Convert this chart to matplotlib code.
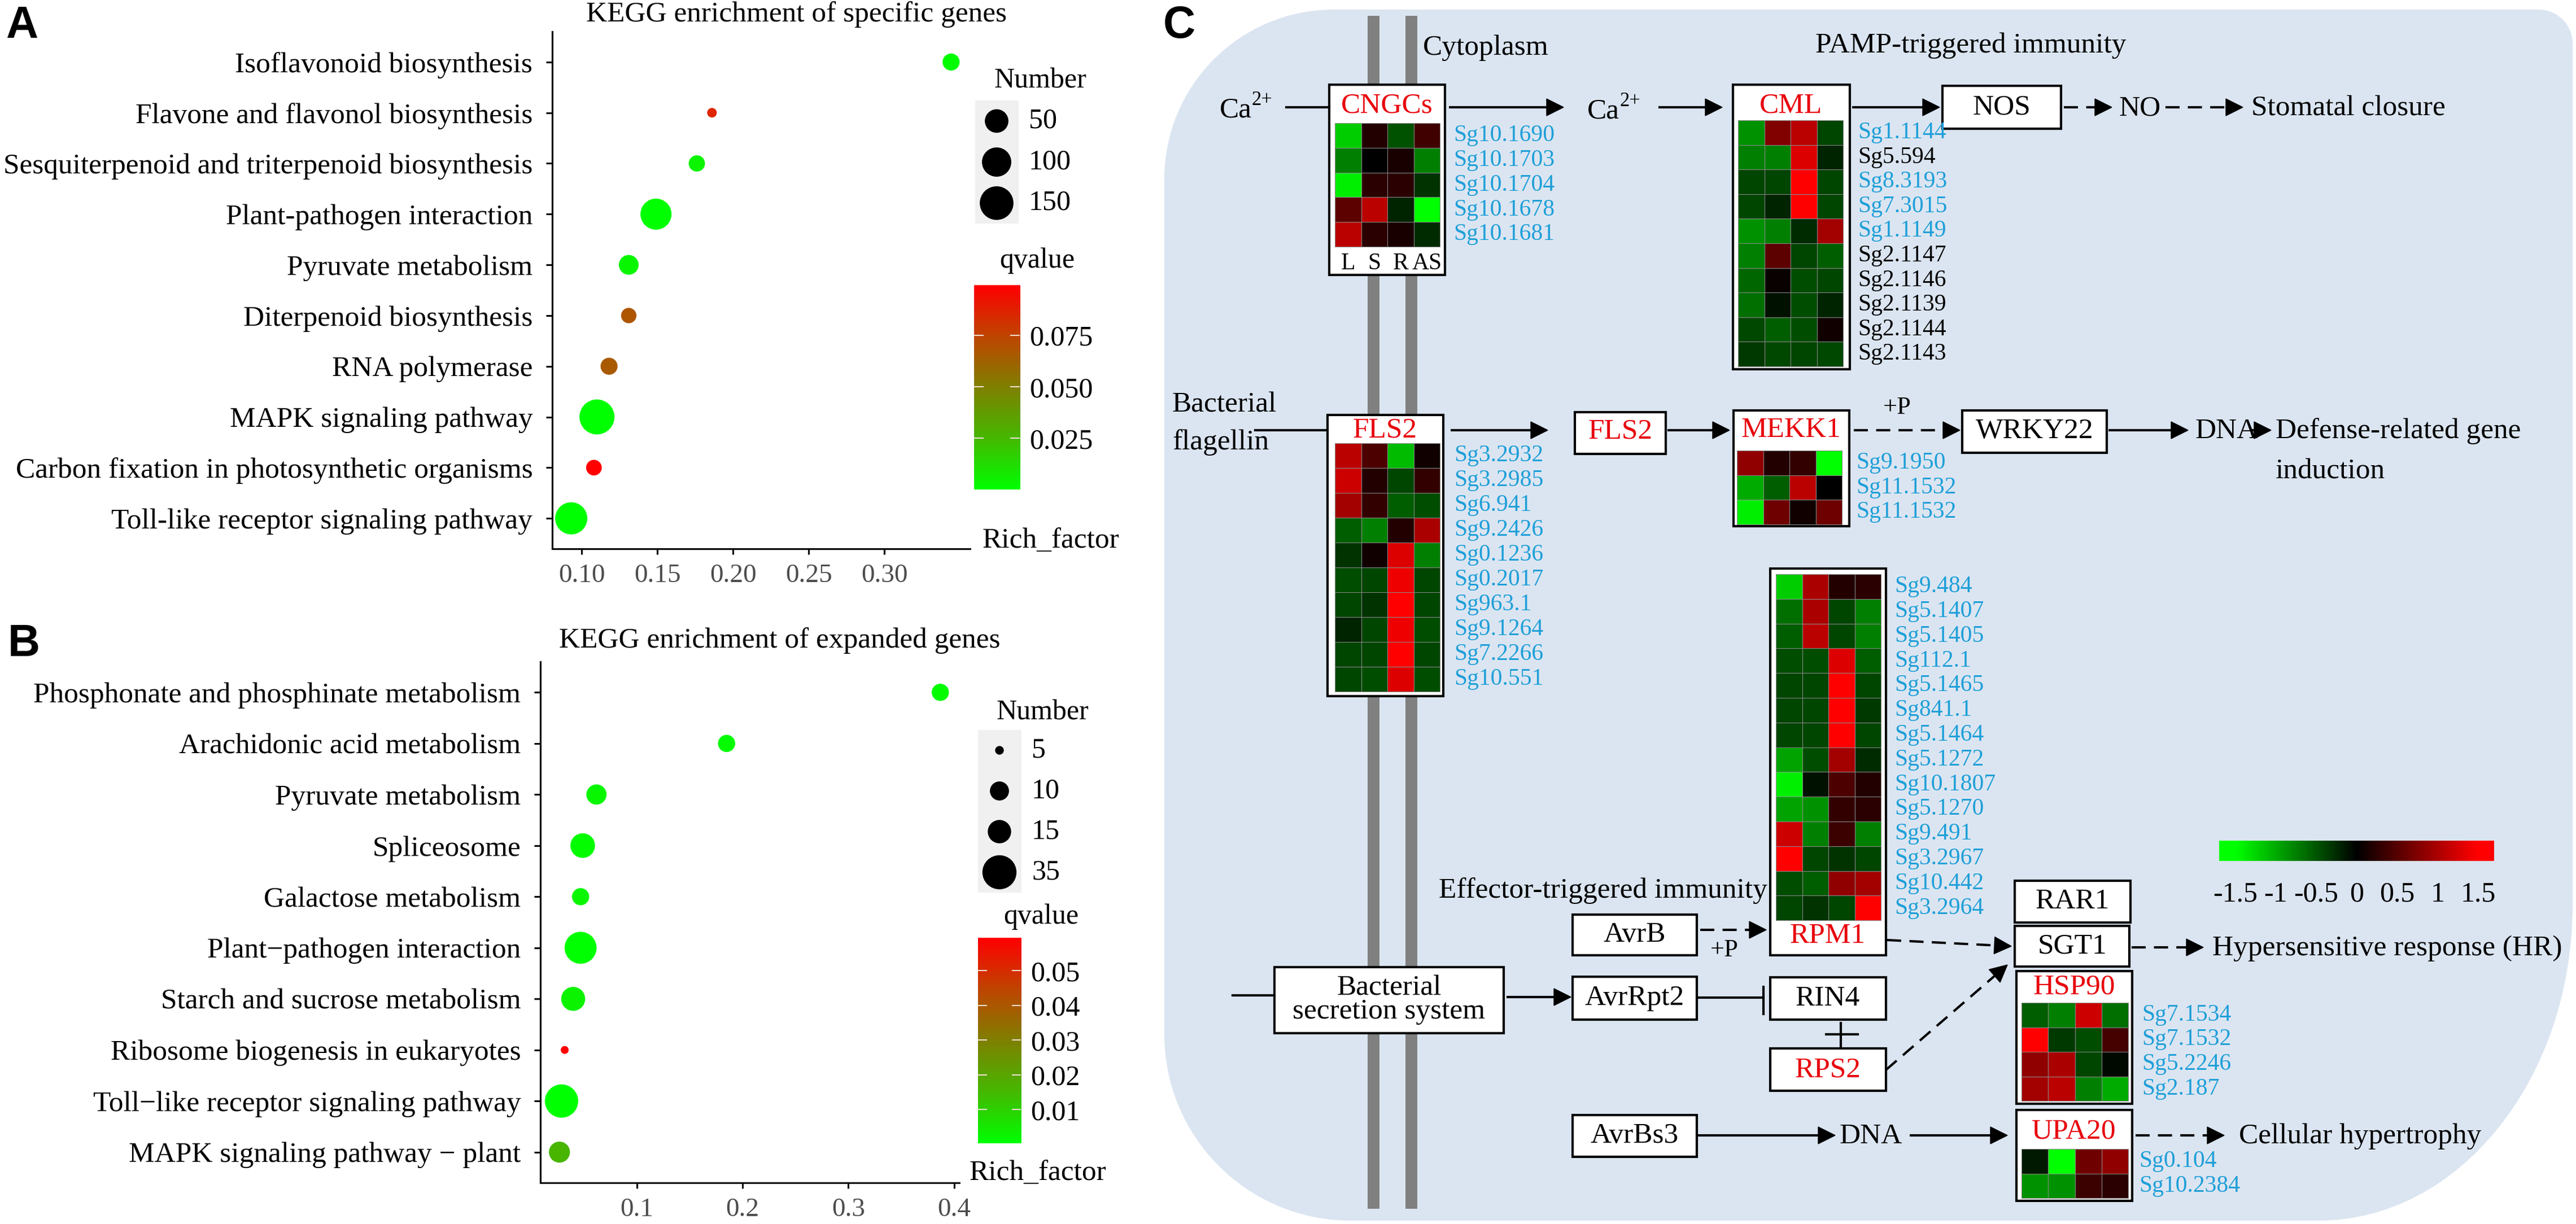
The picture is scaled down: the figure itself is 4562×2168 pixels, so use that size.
import numpy as np
import matplotlib
matplotlib.use("Agg")
import matplotlib.pyplot as plt
from matplotlib.colors import LinearSegmentedColormap
from matplotlib.patches import Rectangle, Polygon, PathPatch
from matplotlib.path import Path

W, H = 4562, 2168
plt.rcParams['font.family'] = ['Liberation Serif', 'DejaVu Serif']

# ---------------- panel A data ----------------
a_terms = ["Isoflavonoid biosynthesis", "Flavone and flavonol biosynthesis",
           "Sesquiterpenoid and triterpenoid biosynthesis", "Plant-pathogen interaction",
           "Pyruvate metabolism", "Diterpenoid biosynthesis", "RNA polymerase",
           "MAPK signaling pathway", "Carbon fixation in photosynthetic organisms",
           "Toll-like receptor signaling pathway"]
a_rich = [0.344, 0.186, 0.176, 0.149, 0.131, 0.131, 0.118, 0.110, 0.108, 0.093]
a_count = [18, 3, 15, 128, 31, 12, 18, 178, 13, 141]
a_q = [0.0008, 0.086, 0.004, 0.0003, 0.003, 0.068, 0.066, 0.0002, 0.0995, 0.0001]
a_xticks = [0.10, 0.15, 0.20, 0.25, 0.30]
a_size_breaks = [50, 100, 150]
a_q_ticks = [0.025, 0.050, 0.075]

# ---------------- panel B data ----------------
b_terms = ["Phosphonate and phosphinate metabolism", "Arachidonic acid metabolism",
           "Pyruvate metabolism", "Spliceosome", "Galactose metabolism",
           "Plant\u2212pathogen interaction", "Starch and sucrose metabolism",
           "Ribosome biogenesis in eukaryotes", "Toll\u2212like receptor signaling pathway",
           "MAPK signaling pathway \u2212 plant"]
b_rich = [0.387, 0.185, 0.062, 0.049, 0.047, 0.047, 0.040, 0.032, 0.029, 0.027]
b_count = [9, 9, 12, 18, 9, 32, 17, 5, 35, 13]
b_q = [0.001, 0.001, 0.002, 0.001, 0.002, 0.0005, 0.003, 0.0595, 0.0003, 0.016]
b_xticks = [0.1, 0.2, 0.3, 0.4]
b_size_breaks = [5, 10, 15, 35]
b_q_ticks = [0.01, 0.02, 0.03, 0.04, 0.05]

# ---------------- panel C heatmaps (L, S, R, AS) ----------------
tissues = ["L", "S", "R", "AS"]
cngc_genes = ["Sg10.1690", "Sg10.1703", "Sg10.1704", "Sg10.1678", "Sg10.1681"]
cngc_vals = [[-1.2, 0.2, -0.47, 0.38],
             [-0.75, 0.0, 0.15, -0.75],
             [-1.4, 0.25, 0.25, -0.3],
             [0.55, 1.1, -0.2, -1.5],
             [1.1, 0.25, 0.15, -0.25]]
cml_genes = ["Sg1.1144", "Sg5.594", "Sg8.3193", "Sg7.3015", "Sg1.1149",
             "Sg2.1147", "Sg2.1146", "Sg2.1139", "Sg2.1144", "Sg2.1143"]
cml_blue = [True, False, True, True, True, False, False, False, False, False]
cml_vals = [[-0.85, 0.75, 1.1, -0.4],
            [-0.75, -0.75, 1.3, -0.2],
            [-0.4, -0.4, 1.5, -0.4],
            [-0.4, -0.2, 1.5, -0.4],
            [-0.85, -0.75, -0.25, 0.95],
            [-0.75, 0.55, -0.4, -0.55],
            [-0.6, 0.05, -0.45, -0.4],
            [-0.65, -0.1, -0.45, -0.2],
            [-0.42, -0.55, -0.45, 0.1],
            [-0.33, -0.42, -0.4, -0.42]]
fls2_genes = ["Sg3.2932", "Sg3.2985", "Sg6.941", "Sg9.2426", "Sg0.1236",
              "Sg0.2017", "Sg963.1", "Sg9.1264", "Sg7.2266", "Sg10.551"]
fls2_vals = [[1.1, 0.45, -1.1, 0.1],
             [1.2, 0.2, -0.4, 0.3],
             [0.95, 0.3, -0.55, -0.45],
             [-0.55, -0.75, 0.2, 1.0],
             [-0.3, 0.1, 1.3, -0.75],
             [-0.45, -0.4, 1.4, -0.4],
             [-0.4, -0.3, 1.5, -0.4],
             [-0.2, -0.4, 1.4, -0.45],
             [-0.4, -0.4, 1.5, -0.4],
             [-0.4, -0.45, 1.3, -0.45]]
mekk_genes = ["Sg9.1950", "Sg11.1532", "Sg11.1532"]
mekk_vals = [[0.85, 0.2, 0.3, -1.5],
             [-1.0, -0.55, 1.1, 0.0],
             [-1.4, 0.65, 0.1, 0.65]]
rpm1_genes = ["Sg9.484", "Sg5.1407", "Sg5.1405", "Sg112.1", "Sg5.1465", "Sg841.1",
              "Sg5.1464", "Sg5.1272", "Sg10.1807", "Sg5.1270", "Sg9.491", "Sg3.2967",
              "Sg10.442", "Sg3.2964"]
rpm1_vals = [[-1.2, 1.0, 0.2, 0.25],
             [-0.65, 1.0, -0.4, -0.75],
             [-0.55, 1.1, -0.4, -0.75],
             [-0.45, -0.45, 1.3, -0.55],
             [-0.4, -0.4, 1.5, -0.4],
             [-0.4, -0.4, 1.5, -0.33],
             [-0.4, -0.4, 1.5, -0.4],
             [-0.95, -0.45, 0.95, -0.25],
             [-1.4, -0.1, 0.45, 0.2],
             [-0.95, -0.85, 0.3, 0.25],
             [1.2, -0.75, 0.35, -0.75],
             [1.5, -0.4, -0.3, -0.4],
             [-0.45, -0.55, 0.85, 0.95],
             [-0.4, -0.3, -0.4, 1.5]]
hsp_genes = ["Sg7.1534", "Sg7.1532", "Sg5.2246", "Sg2.187"]
hsp_vals = [[-0.55, -0.75, 1.2, -0.65],
            [1.5, -0.33, -0.45, 0.4],
            [0.85, 1.0, -0.4, -0.05],
            [0.95, 1.1, -0.75, -1.0]]
upa_genes = ["Sg0.104", "Sg10.2384"]
upa_vals = [[-0.15, -1.5, 0.65, 0.85],
            [-0.85, -0.85, 0.35, 0.25]]
heat_ticks = [-1.5, -1, -0.5, 0, 0.5, 1, 1.5]

BLUE = "#1e9fd8"
RED = "#e8000b"
q_cmap = LinearSegmentedColormap.from_list("q", ["#00ff00", "#45b800", "#7f8000", "#bf4500", "#ff0000"])
heat_cmap = LinearSegmentedColormap.from_list("h", ["#00ff00", "#000000", "#ff0000"])

fig = plt.figure(figsize=(W / 100, H / 100), dpi=100)
ov = fig.add_axes([0, 0, 1, 1])
ov.set_xlim(0, W)
ov.set_ylim(H, 0)
ov.axis("off")


def px_axes(x0, y0, x1, y1):
    return fig.add_axes([x0 / W, 1 - y1 / H, (x1 - x0) / W, (y1 - y0) / H])


def diam(vals, nmin, nmax, dmin, dmax):
    v = np.asarray(vals, dtype=float)
    return dmin + (dmax - dmin) * np.sqrt(np.clip((v - nmin) / (nmax - nmin), 0, None))


def bubble(ax, terms, rich, count, q, dmin, dmax, xticks, fmt):
    n = len(terms)
    y = np.arange(n)[::-1]
    d = diam(count, min(count), max(count), dmin, dmax)
    ax.scatter(rich, y, s=(d * 0.72) ** 2, c=q, cmap=q_cmap, vmin=min(q), vmax=max(q),
               linewidths=0, zorder=3, clip_on=False)
    lo, hi = min(rich), max(rich)
    e = 0.05 * (hi - lo)
    ax.set_xlim(lo - e, hi + e)
    ax.set_ylim(-0.6, n - 0.4)
    ax.set_yticks(y)
    ax.set_yticklabels(terms, fontsize=37)
    ax.set_xticks(xticks)
    ax.set_xticklabels([fmt % t for t in xticks], fontsize=34, color="#4d4d4d")
    for s in ["top", "right"]:
        ax.spines[s].set_visible(False)
    for s in ["left", "bottom"]:
        ax.spines[s].set_linewidth(2.2)
    ax.tick_params(axis="y", length=8, width=2.2, pad=17)
    ax.tick_params(axis="x", length=7, width=2.2, pad=12)
    ax.patch.set_visible(False)


def size_legend(x0, ytitle, ytop, key_h, breaks, count, dmin, dmax):
    ov.text(x0 + 33, ytitle, "Number", fontsize=36, va="center", ha="left")
    ov.add_patch(Rectangle((x0, ytop), 77, key_h * len(breaks), fc="#f0f0f0", ec="none", zorder=1))
    d = diam(breaks, min(count), max(count), dmin, dmax)
    yc = ytop + key_h * (np.arange(len(breaks)) + 0.5)
    ov.scatter([x0 + 38] * len(breaks), yc, s=(d * 0.72) ** 2, color="black", zorder=2)
    for b, yy in zip(breaks, yc):
        ov.text(x0 + 95, yy, str(b), fontsize=36, va="center", ha="left")


def q_bar(x0, y0, x1, y1, q, ticks, fmt, ytitle):
    ov.text(x0 + 45, ytitle, "qvalue", fontsize=36, va="center", ha="left")
    cax = px_axes(x0, y0, x1, y1)
    vmin, vmax = min(q), max(q)
    cax.imshow(np.linspace(0, 1, 256)[:, None], aspect="auto", cmap=q_cmap, origin="lower",
               extent=[0, 1, vmin, vmax])
    cax.set_xlim(0, 1)
    cax.set_ylim(vmin, vmax)
    for t in ticks:
        cax.plot([0, 0.2], [t, t], color="#f0e0d0", lw=1.5)
        cax.plot([0.8, 1], [t, t], color="#f0e0d0", lw=1.5)
    cax.set_xticks([])
    cax.yaxis.tick_right()
    cax.set_yticks(ticks)
    cax.set_yticklabels([fmt % t for t in ticks], fontsize=36)
    cax.tick_params(axis="y", length=0, pad=12)
    for s in cax.spines.values():
        s.set_visible(False)


# ---------------- panel A ----------------
axA = px_axes(978, 56, 1718, 972)
bubble(axA, a_terms, a_rich, a_count, a_q, 17, 62, a_xticks, "%.2f")
fig.text(1410 / W, 1 - 26 / H, "KEGG enrichment of specific genes", fontsize=37, ha="center", va="center")
ov.text(1740, 958, "Rich_factor", fontsize=37, ha="left", va="center")
size_legend(1727, 143, 178, 72.7, a_size_breaks, a_count, 17, 62)
q_bar(1725, 505, 1806, 867, a_q, a_q_ticks, "%.3f", 462)

# ---------------- panel B ----------------
axB = px_axes(957, 1172, 1699, 2095)
bubble(axB, b_terms, b_rich, b_count, b_q, 14, 59, b_xticks, "%.1f")
fig.text(1381 / W, 1 - 1135 / H, "KEGG enrichment of expanded genes", fontsize=37, ha="center", va="center")
ov.text(1717, 2078, "Rich_factor", fontsize=37, ha="left", va="center")
size_legend(1732, 1262, 1293, 72, b_size_breaks, b_count, 14, 59)
q_bar(1732, 1661, 1808, 2025, b_q, b_q_ticks, "%.2f", 1624)

# panel letters
for lab, x, y in [("A", 10, 67), ("B", 14, 1162), ("C", 2060, 67)]:
    ov.text(x, y, lab, fontsize=57, fontweight="bold", family="Liberation Sans", ha="left", va="baseline")


# ---------------- panel C ----------------
def round_rect(x0, y0, x1, y1, tl, tr, br, bl):
    k = 0.5523
    v = [(x0 + tl[0], y0), (x1 - tr[0], y0),
         (x1 - tr[0] + k * tr[0], y0), (x1, y0 + tr[1] - k * tr[1]), (x1, y0 + tr[1]),
         (x1, y1 - br[1]),
         (x1, y1 - br[1] + k * br[1]), (x1 - br[0] + k * br[0], y1), (x1 - br[0], y1),
         (x0 + bl[0], y1),
         (x0 + bl[0] - k * bl[0], y1), (x0, y1 - bl[1] + k * bl[1]), (x0, y1 - bl[1]),
         (x0, y0 + tl[1]),
         (x0, y0 + tl[1] - k * tl[1]), (x0 + tl[0] - k * tl[0], y0), (x0 + tl[0], y0),
         (x0 + tl[0], y0)]
    c = [Path.MOVETO, Path.LINETO] + [Path.CURVE4] * 3 + [Path.LINETO] + [Path.CURVE4] * 3 + \
        [Path.LINETO] + [Path.CURVE4] * 3 + [Path.LINETO] + [Path.CURVE4] * 3 + [Path.CLOSEPOLY]
    return Path(v, c)


ov.add_patch(PathPatch(round_rect(2062, 17, 4556, 2162, (300, 300), (60, 60), (450, 560), (330, 330)),
                       fc="#dbe5f1", ec="none", zorder=0))
for mx in [2422, 2489]:
    ov.add_patch(Rectangle((mx, 28), 21, 2113, fc="#808080", ec="none", zorder=1))


def box(x0, y0, x1, y1):
    ov.add_patch(Rectangle((x0, y0), x1 - x0, y1 - y0, fc="white", ec="black", lw=3, zorder=3))


def txt(x, y, s, size=37, color="black", ha="center"):
    ov.text(x, y, s, fontsize=size, color=color, ha=ha, va="center", zorder=6)


def ca(x, y):
    ov.text(x, y, "Ca", fontsize=37, ha="left", va="center", zorder=6)
    ov.text(x + 57, y - 17, "2+", fontsize=25, ha="left", va="center", zorder=6)


def heat(x0, y0, vals, cw=46.5, ch=43.8):
    v = np.asarray(vals)
    nr, nc = v.shape
    ov.pcolormesh(x0 + cw * np.arange(nc + 1), y0 + ch * np.arange(nr + 1), v, cmap=heat_cmap,
                  vmin=-1.5, vmax=1.5, edgecolors="#8a8a8a", linewidth=0.6, zorder=4)


def genes(x, y0, names, ch=43.8, blue=None):
    for i, g in enumerate(names):
        col = BLUE if (blue is None or blue[i]) else "black"
        ov.text(x, y0 + ch * (i + 0.5), g, fontsize=30, color=col, ha="left", va="center", zorder=6)


def arrow(x0, y0, x1, y1, dashed=False):
    L = np.hypot(x1 - x0, y1 - y0)
    ux, uy = (x1 - x0) / L, (y1 - y0) / L
    hl, hw = 30, 15
    bx, by = x1 - ux * hl, y1 - uy * hl
    ov.plot([x0, bx], [y0, by], color="black", lw=3, ls=(0, (6, 3.5)) if dashed else "-",
            solid_capstyle="butt", zorder=5)
    ov.add_patch(Polygon([(x1, y1), (bx - uy * hw, by + ux * hw), (bx + uy * hw, by - ux * hw)],
                         closed=True, fc="black", ec="black", zorder=5))


def line(x0, y0, x1, y1):
    ov.plot([x0, x1], [y0, y1], color="black", lw=3, zorder=5)


txt(2520, 85, "Cytoplasm", ha="left")
txt(3490, 81, "PAMP-triggered immunity")

# row 1 : CNGCs -> CML -> NOS
ca(2160, 195)
line(2278, 190, 2354, 190)
box(2354, 150, 2559, 487)
txt(2456, 187, "CNGCs", color=RED)
heat(2364, 218, cngc_vals)
genes(2574, 218, cngc_genes)
for i, t in enumerate(tissues):
    txt(2364 + 46.5 * (i + 0.5), 467, t, size=30)
arrow(2566, 190, 2769, 190)
ca(2811, 197)
arrow(2937, 190, 3050, 190)
box(3069, 150, 3276, 654)
txt(3172, 187, "CML", color=RED)
heat(3078, 213, cml_vals, ch=43.6)
genes(3290, 213, cml_genes, ch=43.6, blue=cml_blue)
arrow(3280, 190, 3435, 190)
box(3440, 152, 3650, 228)
txt(3545, 190, "NOS")
arrow(3655, 190, 3740, 190, dashed=True)
txt(3752, 192, "NO", ha="left")
arrow(3835, 190, 3972, 190, dashed=True)
txt(3987, 192, "Stomatal closure", ha="left")

# row 2 : flagellin -> FLS2 -> MEKK1 -> WRKY22
txt(2076, 717, "Bacterial", ha="left")
txt(2076, 784, "flagellin", ha="left")
line(2223, 762, 2351, 762)
box(2351, 735, 2556, 1233)
txt(2453, 762, "FLS2", color=RED)
heat(2364, 785, fls2_vals, ch=44)
genes(2575, 785, fls2_genes, ch=44)
arrow(2569, 762, 2741, 762)
box(2789, 730, 2950, 804)
txt(2870, 764, "FLS2", color=RED)
arrow(2953, 762, 3063, 762)
box(3070, 727, 3275, 932)
txt(3172, 762, "MEKK1", color=RED)
heat(3076, 798, mekk_vals, ch=43.7)
genes(3287, 798, mekk_genes, ch=43.7)
arrow(3283, 762, 3471, 762, dashed=True)
txt(3360, 722, "+P", size=32)
box(3475, 727, 3731, 802)
txt(3603, 764, "WRKY22")
arrow(3734, 762, 3875, 762)
txt(3888, 764, "DNA", ha="left")
arrow(3985, 762, 4022, 762, dashed=True)
txt(4030, 764, "Defense-related gene", ha="left")
txt(4030, 835, "induction", ha="left")

# effector-triggered immunity
box(3135, 1007, 3340, 1692)
heat(3145, 1017, rpm1_vals, ch=43.8)
genes(3355, 1017, rpm1_genes, ch=43.8)
txt(3237, 1658, "RPM1", color=RED)
txt(2548, 1578, "Effector-triggered immunity", ha="left")
box(2785, 1620, 3005, 1692)
txt(2895, 1656, "AvrB")
arrow(3011, 1647, 3128, 1647, dashed=True)
txt(3054, 1683, "+P", size=32)
arrow(3342, 1665, 3562, 1676, dashed=True)
box(3568, 1560, 3773, 1634)
txt(3670, 1597, "RAR1")
box(3568, 1640, 3771, 1712)
txt(3670, 1676, "SGT1")
arrow(3775, 1678, 3902, 1678, dashed=True)
txt(3918, 1680, "Hypersensitive response (HR)", ha="left")

hax = px_axes(3930, 1489, 4417, 1525)
hax.imshow(np.linspace(-1.7, 1.7, 256)[None, :], aspect="auto", cmap=heat_cmap, vmin=-1.5, vmax=1.5,
           extent=[-1.7, 1.7, 0, 1])
hax.set_xlim(-1.7, 1.7)
hax.set_yticks([])
hax.set_xticks(heat_ticks)
hax.set_xticklabels(["%g" % t for t in heat_ticks], fontsize=36)
hax.tick_params(axis="x", length=0, pad=26)
for s in hax.spines.values():
    s.set_visible(False)

line(2183, 1763, 2257, 1763)
box(2257, 1713, 2663, 1830)
txt(2460, 1750, "Bacterial")
txt(2460, 1792, "secretion system")
arrow(2668, 1766, 2782, 1766)
box(2785, 1730, 3005, 1806)
txt(2895, 1768, "AvrRpt2")
line(3006, 1767, 3123, 1767)
line(3123, 1748, 3123, 1796)
box(3135, 1731, 3340, 1806)
txt(3237, 1769, "RIN4")
line(3260, 1812, 3260, 1854)
line(3234, 1832, 3290, 1832)
box(3135, 1857, 3340, 1932)
txt(3237, 1895, "RPS2", color=RED)
arrow(3340, 1895, 3555, 1709, dashed=True)

box(3571, 1720, 3776, 1955)
txt(3673, 1748, "HSP90", color=RED)
heat(3580, 1776, hsp_vals, cw=47.25, ch=43.5)
genes(3793, 1776, hsp_genes, ch=43.5)

box(2785, 1975, 3005, 2049)
txt(2895, 2012, "AvrBs3")
arrow(3006, 2011, 3250, 2011)
txt(3313, 2013, "DNA")
arrow(3382, 2011, 3555, 2011)
box(3571, 1966, 3776, 2127)
txt(3673, 2004, "UPA20", color=RED)
heat(3580, 2035, upa_vals, cw=47.25, ch=43.5)
genes(3788, 2035, upa_genes, ch=43.5)
arrow(3782, 2011, 3939, 2011, dashed=True)
txt(3965, 2013, "Cellular hypertrophy", ha="left")

fig.savefig("out.png", dpi=100)
